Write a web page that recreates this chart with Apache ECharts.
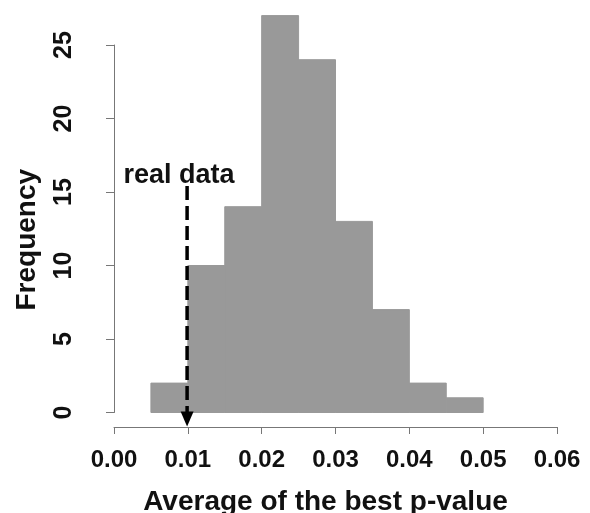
<!DOCTYPE html>
<html>
<head>
<meta charset="utf-8">
<script src="https://cdn.jsdelivr.net/npm/echarts@6/dist/echarts.min.js"></script>
<style>
	html, body { margin: 0; padding: 0; background: #fff; }
	#chart { width: 590px; height: 513px; }
</style>
</head>
<body>
<div id="chart"></div>
<script>
	// histogram bins (left edge) and counts
	var binStart = [0.005, 0.010, 0.015, 0.020, 0.025, 0.030, 0.035, 0.040, 0.045];
	var binWidth = 0.005;
	var counts = [2, 10, 14, 27, 24, 13, 7, 2, 1];
	var xTicks = [0.00, 0.01, 0.02, 0.03, 0.04, 0.05, 0.06];
	var yTicks = [0, 5, 10, 15, 20, 25];
	// the arrow for the real data
	var realData = 0.0099;
	var arrowTop = 15.4;
	var arrowTip = -0.95;

	var font = '"Liberation Sans", Arial, sans-serif';

	var chart = echarts.init(document.getElementById('chart'));

	var histData = [];
	for (var i = 0; i < binStart.length; i++) {
		histData.push([binStart[i], binStart[i] + binWidth, counts[i]]);
	}

	var option = {
		backgroundColor: '#fff',
		animation: false,
		grid: {
			left: 114,
			right: 33,
			top: 45,
			bottom: 100.5,
			outerBoundsMode: 'none'
		},
		xAxis: {
			type: 'value',
			min: xTicks[0],
			max: xTicks[xTicks.length - 1],
			interval: 0.01,
			offset: 14.5,
			splitLine: { show: false },
			axisLine: { show: true, onZero: false, lineStyle: { color: '#777', width: 1 } },
			axisTick: { show: true, length: 7, lineStyle: { color: '#777' } },
			axisLabel: {
				margin: 21,
				color: '#111',
				fontSize: 24,
				fontWeight: 'bold',
				fontFamily: font,
				formatter: function(v) {
					return v.toFixed(2);
				}
			},
			name: 'Average of the best p-value',
			nameLocation: 'middle',
			nameGap: 61,
			nameTextStyle: {
				color: '#111',
				fontSize: 28,
				fontWeight: 'bold',
				fontFamily: font,
				padding: [0, 20, 0, 0]
			}
		},
		yAxis: {
			type: 'value',
			min: yTicks[0],
			max: yTicks[yTicks.length - 1],
			interval: 5,
			offset: 17,
			splitLine: { show: false },
			axisLine: { show: true, lineStyle: { color: '#777', width: 1 } },
			axisTick: { show: true, length: 8, lineStyle: { color: '#777' } },
			axisLabel: {
				rotate: 90,
				margin: 20,
				color: '#111',
				fontSize: 25,
				fontWeight: 'bold',
				fontFamily: font
			},
			name: 'Frequency',
			nameLocation: 'middle',
			nameGap: 56,
			nameTextStyle: {
				color: '#111',
				fontSize: 28,
				fontWeight: 'bold',
				fontFamily: font,
				padding: [0, 22, 0, 0]
			}
		},
		series: [{
				name: 'hist',
				type: 'custom',
				clip: false,
				data: histData,
				renderItem: function(params, api) {
					var p0 = api.coord([api.value(0), 0]);
					var p1 = api.coord([api.value(1), api.value(2)]);
					return {
						type: 'rect',
						shape: {
							x: p0[0],
							y: p1[1],
							width: p1[0] - p0[0],
							height: p0[1] - p1[1]
						},
						style: { fill: '#999999', stroke: '#999999', lineWidth: 1 }
					};
				}
			},
			{
				name: 'real data',
				type: 'custom',
				clip: false,
				data: [[realData, arrowTop, arrowTip]],
				renderItem: function(params, api) {
					var top = api.coord([api.value(0), api.value(1)]);
					var tip = api.coord([api.value(0), api.value(2)]);
					var headH = 15, headW = 13;
					return {
						type: 'group',
						children: [{
								type: 'line',
								shape: { x1: top[0], y1: top[1], x2: tip[0], y2: tip[1] - headH + 2 },
								style: { stroke: '#000', lineWidth: 3.5, lineDash: [14, 6] }
							},
							{
								type: 'polygon',
								shape: {
									points: [
										[tip[0] - headW / 2, tip[1] - headH],
										[tip[0] + headW / 2, tip[1] - headH],
										[tip[0], tip[1]]
									]
								},
								style: { fill: '#000' }
							},
							{
								type: 'text',
								x: top[0] - 8,
								y: top[1] - 11,
								style: {
									text: 'real data',
									fill: '#111',
									font: 'bold 27px ' + font,
									align: 'center',
									verticalAlign: 'middle'
								}
							}
						]
					};
				}
			}
		]
	};

	chart.setOption(option);
</script>
</body>
</html>
